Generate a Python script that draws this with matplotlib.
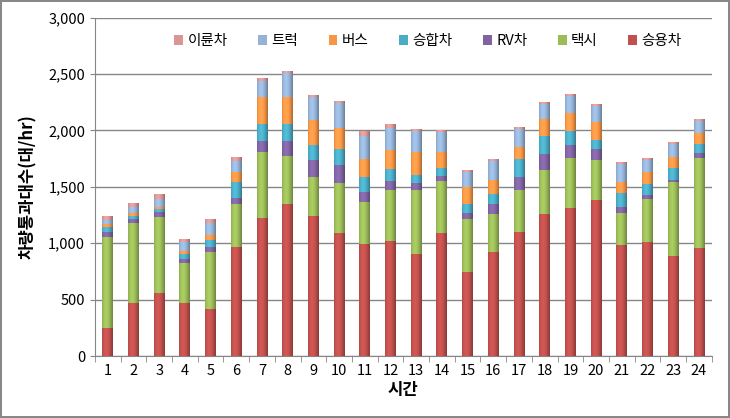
import numpy as np
import matplotlib
matplotlib.use('Agg')
import matplotlib.pyplot as plt
from matplotlib.colors import to_rgb
from matplotlib.ticker import FuncFormatter

plt.rcParams['font.family'] = ['Noto Sans CJK KR', 'DejaVu Sans']

hours = list(range(1, 25))

# 승용차, 택시, RV차, 승합차, 버스, 트럭, 이륜차 (대/hr)
car = [245, 470, 555, 470, 420, 970, 1225, 1345, 1240, 1095, 995, 1020,
       905, 1095, 745, 925, 1100, 1255, 1310, 1380, 985, 1015, 890, 955]
taxi = [815, 708, 674, 351, 507, 381, 580, 425, 346, 439, 372, 452,
        571, 454, 474, 331, 373, 396, 448, 358, 279, 373, 651, 805]
rv = [44, 39, 49, 44, 44, 50, 102, 137, 153, 156, 88, 82,
      58, 44, 49, 88, 117, 140, 112, 96, 58, 38, 21, 36]
van = [44, 29, 30, 44, 58, 146, 153, 153, 134, 146, 132, 108,
       68, 73, 83, 97, 155, 161, 123, 79, 127, 97, 105, 88]
bus = [21, 20, 14, 23, 44, 88, 234, 234, 217, 182, 161, 162,
       205, 141, 152, 117, 109, 153, 161, 161, 93, 108, 100, 96]
truck = [38, 53, 74, 79, 103, 97, 147, 214, 205, 228, 205, 193,
         190, 175, 132, 167, 155, 131, 153, 141, 156, 103, 111, 103]
moto = [35, 35, 38, 24, 35, 35, 18, 15, 15, 15, 40, 35,
        15, 15, 9, 15, 9, 9, 14, 15, 11, 11, 9, 15]

series = [('승용차', car, '#C0504D'),
          ('택시', taxi, '#9BBB59'),
          ('RV차', rv, '#8064A2'),
          ('승합차', van, '#4BACC6'),
          ('버스', bus, '#F79646'),
          ('트럭', truck, '#95B3D7'),
          ('이륜차', moto, '#D99694')]

# cylinder-like shading across each bar
t = np.linspace(-1, 1, 32)
shade = 0.78 + 0.32 * np.cos((t + 0.25) * np.pi / 2.2)

fig = plt.figure(figsize=(7.3, 4.18), dpi=100)
fig.patch.set_edgecolor('#888888')
fig.patch.set_linewidth(1.5)
ax = fig.add_axes([0.130, 0.148, 0.845, 0.81])

width = 0.42
bottom = np.zeros(len(hours))
handles = []
for name, vals, color in series:
    b = ax.bar(hours, vals, width=width, bottom=bottom, color=color,
               label=name, zorder=3)
    handles.append(b)
    rgb = np.array(to_rgb(color))
    img = np.clip(shade[:, None] * rgb[None, :], 0, 1)[None, :, :]
    for x, v, y0 in zip(hours, vals, bottom):
        ax.imshow(img, extent=(x - width / 2, x + width / 2, y0, y0 + v),
                  aspect='auto', interpolation='bilinear', zorder=3.5)
    bottom += np.array(vals)

ax.set_xlim(0.5, 24.5)
ax.set_ylim(0, 3000)
ax.set_yticks(np.arange(0, 3001, 500))
ax.yaxis.set_major_formatter(FuncFormatter(lambda v, p: f'{int(v):,}'))
ax.set_xticks(hours)
ax.set_xticks(np.arange(0.5, 25, 1), minor=True)
ax.tick_params(axis='x', which='major', length=0, pad=6)
ax.tick_params(axis='x', which='minor', length=4, color='#868686')
ax.grid(axis='y', color='#868686', linewidth=1, zorder=0)
for s in ['top', 'right']:
    ax.spines[s].set_visible(False)
ax.spines['left'].set_color('#868686')
ax.spines['bottom'].set_color('#868686')
ax.tick_params(axis='y', colors='#868686', labelcolor='black')
ax.tick_params(labelsize=10.5)

ax.set_xlabel('시간', fontsize=12, fontweight='bold', labelpad=2)
ax.set_ylabel('차량통과대수(대/hr)', fontsize=12, fontweight='bold', labelpad=8)

ax.legend(handles[::-1], [s[0] for s in series][::-1], loc='upper center',
          ncol=7, frameon=False, fontsize=10.5, handlelength=0.6,
          handleheight=0.6, columnspacing=2.1, handletextpad=0.3,
          bbox_to_anchor=(0.54, 0.99))

fig.savefig('out.png', dpi=100)
